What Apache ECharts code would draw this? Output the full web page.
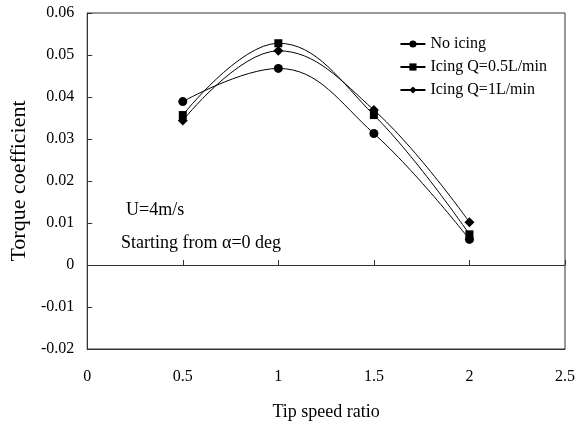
<!DOCTYPE html>
<html>
<head>
<meta charset="utf-8">
<script src="https://cdn.jsdelivr.net/npm/echarts@6/dist/echarts.min.js"></script>
<style>
    html, body { margin: 0; padding: 0; background: #fff; }
    #chart { width: 578px; height: 428px; }
</style>
</head>
<body>
<div id="chart"></div>
<script>
    // tip speed ratio
    var tsr = [0.5, 1, 1.5, 2];
    // torque coefficient
    var noIcing = [0.0389, 0.0468, 0.0313, 0.0061];
    var icingHalf = [0.0357, 0.0528, 0.0357, 0.0073];
    var icingOne = [0.0344, 0.0510, 0.0369, 0.0102];
    var seriesNames = ['No icing', 'Icing Q=0.5L/min', 'Icing Q=1L/min'];

    var font = 'Liberation Serif';

    function pairs(vals) {
        return tsr.map(function (x, i) { return [x, vals[i]]; });
    }

    function mkSeries(name, vals, symbol, size) {
        return {
            name: name,
            type: 'line',
            smooth: 0.4,
            data: pairs(vals),
            symbol: symbol,
            symbolSize: size,
            itemStyle: { color: '#000' },
            lineStyle: { color: '#000', width: 1 },
            z: 5
        };
    }

    var myChart = echarts.init(document.getElementById('chart'));
    myChart.setOption({
        animation: false,
        textStyle: { fontFamily: font },
        grid: {
            left: 85, right: 11, top: 13, bottom: 79,
            show: true,
            borderColor: '#333',
            borderWidth: 1
        },
        legend: {
            right: 26,
            top: 31,
            orient: 'vertical',
            itemWidth: 25,
            itemHeight: 9,
            itemGap: 7,
            textStyle: { fontFamily: font, fontSize: 16, color: '#000' },
            data: seriesNames
        },
        xAxis: [
            {
                type: 'value',
                min: 0, max: 2.5, interval: 0.5,
                name: 'Tip speed ratio',
                nameLocation: 'middle',
                nameGap: 54,
                nameTextStyle: { fontFamily: font, fontSize: 18, color: '#000' },
                axisLine: { onZero: false, lineStyle: { color: '#333' } },
                axisTick: { show: false },
                axisLabel: { margin: 20, fontFamily: font, fontSize: 16, color: '#000' },
                splitLine: { show: false }
            },
            {
                type: 'value',
                position: 'bottom',
                min: 0, max: 2.5, interval: 0.5,
                axisLine: { onZero: true, lineStyle: { color: '#333' } },
                axisTick: { inside: true, length: 5, lineStyle: { color: '#333' } },
                axisLabel: { show: false },
                splitLine: { show: false }
            }
        ],
        yAxis: {
            type: 'value',
            min: -0.02, max: 0.06, interval: 0.01,
            name: 'Torque coefficient',
            nameLocation: 'middle',
            nameGap: 54,
            nameTextStyle: { fontFamily: font, fontSize: 22, color: '#000' },
            axisLine: { onZero: false, lineStyle: { color: '#333' } },
            axisTick: { inside: true, length: 5, lineStyle: { color: '#333' } },
            axisLabel: {
                margin: 13, fontFamily: font, fontSize: 16, color: '#000',
                formatter: function (v) { return v === 0 ? '0' : v.toFixed(2); }
            },
            splitLine: { show: false }
        },
        graphic: [
            {
                type: 'text', left: 126, top: 201,
                style: { text: 'U=4m/s', fontFamily: font, fontSize: 18, fill: '#000' }
            },
            {
                type: 'text', left: 121, top: 234,
                style: { text: 'Starting from α=0 deg', fontFamily: font, fontSize: 18, fill: '#000' }
            }
        ],
        series: [
            mkSeries(seriesNames[0], noIcing, 'circle', 9),
            mkSeries(seriesNames[1], icingHalf, 'rect', 8),
            mkSeries(seriesNames[2], icingOne, 'diamond', 10)
        ]
    });
</script>
</body>
</html>
